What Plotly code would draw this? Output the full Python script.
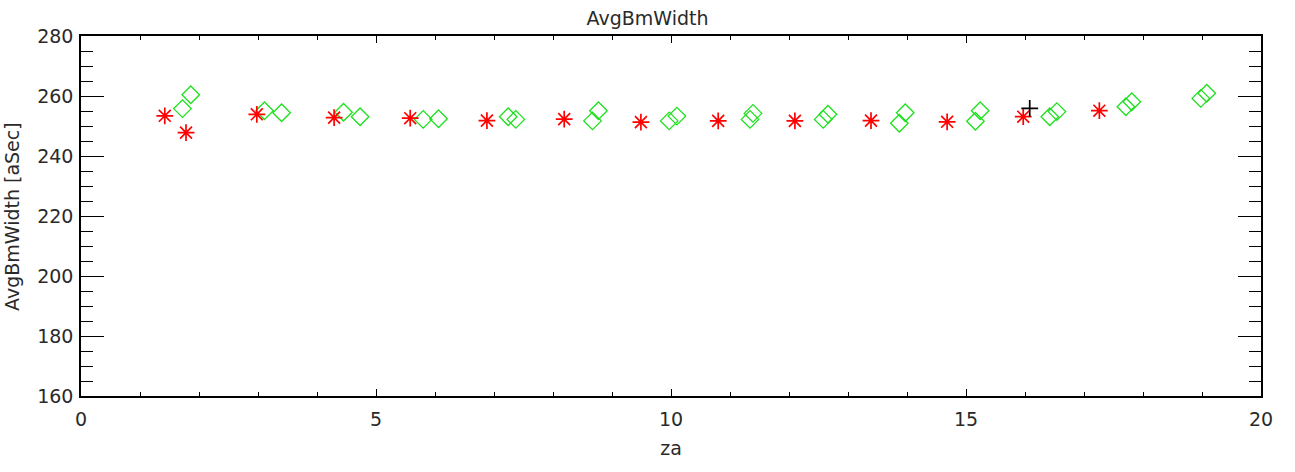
import plotly.graph_objects as go

# Red asterisks
red_za = [1.42, 1.78, 2.98, 4.29, 5.58, 6.88, 8.19, 9.49, 10.80, 12.10, 13.39, 14.68, 15.97, 17.26]
red_bw = [253.4, 247.8, 253.9, 252.8, 252.6, 251.8, 252.3, 251.3, 251.7, 251.7, 251.8, 251.4, 253.1, 255.1]

# Green diamonds
green_za = [1.72, 1.86, 3.11, 3.40, 4.45, 4.73, 5.80, 6.06, 7.24, 7.37, 8.67, 8.77,
            9.97, 10.10, 11.34, 11.39, 12.58, 12.66, 13.87, 13.97, 15.16, 15.24,
            16.42, 16.54, 17.71, 17.81, 18.98, 19.08]
green_bw = [255.8, 260.4, 255.1, 254.4, 254.6, 253.1, 252.2, 252.4, 253.1, 252.2, 251.7, 255.1,
            251.7, 253.3, 252.2, 254.2, 252.2, 253.9, 250.9, 254.4, 251.6, 255.1,
            253.1, 254.8, 256.4, 258.1, 259.2, 260.9]

# Black plus
black_za = [16.08]
black_bw = [255.9]

x_range = [0, 20]
y_range = [160, 280]
x_ticks = [0, 5, 10, 15, 20]
y_ticks = [160, 180, 200, 220, 240, 260, 280]
y_title = "AvgBmWidth [aSec]"

FONT = "DejaVu Sans"
TXT = "#2a2a2a"

fig = go.Figure()
fig.add_trace(go.Scatter(x=green_za, y=green_bw, mode="markers",
                         marker=dict(symbol="diamond-open", size=13.5, color="#1ee01e",
                                     line=dict(width=1.3, color="#1ee01e")),
                         showlegend=False))
fig.add_trace(go.Scatter(x=red_za, y=red_bw, mode="markers",
                         marker=dict(symbol="asterisk-open", size=14, color="#ff0000",
                                     line=dict(width=1.7, color="#ff0000")),
                         showlegend=False))
fig.add_trace(go.Scatter(x=black_za, y=black_bw, mode="markers",
                         marker=dict(symbol="cross-thin-open", size=12, color="#000000",
                                     line=dict(width=1.7, color="#000000")),
                         showlegend=False))

axis_common = dict(showgrid=False, zeroline=False, showline=True, linecolor="#000000",
                   linewidth=1.5, mirror="ticks", ticks="inside", tickcolor="#000000",
                   tickwidth=1.2, tickfont=dict(family=FONT, size=19, color=TXT))

fig.update_layout(
    width=1295, height=472,
    margin=dict(l=81, r=34, t=36, b=76, autoexpand=False),
    paper_bgcolor="white", plot_bgcolor="white",
    title=dict(text="AvgBmWidth", x=0.5, xanchor="center", y=0.962, yanchor="middle",
               font=dict(family=FONT, size=19, color=TXT)),
    xaxis=dict(range=x_range, tickvals=x_ticks, ticklen=7,
               minor=dict(dtick=1, ticklen=4, ticks="inside", tickcolor="#000000", tickwidth=1),
               title=dict(text="za", standoff=13, font=dict(family=FONT, size=19, color=TXT)),
               ticklabelstandoff=5,
               automargin=False,
               **axis_common),
    yaxis=dict(range=y_range, tickvals=y_ticks, ticklen=23,
               minor=dict(dtick=5, ticklen=12, ticks="inside", tickcolor="#000000", tickwidth=1),
               ticklabelstandoff=2,
               automargin=False,
               **axis_common),
    annotations=[dict(text=y_title, xref="paper", yref="paper", x=-0.0585, y=0.5,
                      xanchor="center", yanchor="middle", textangle=-90, showarrow=False,
                      font=dict(family=FONT, size=19, color=TXT))],
)

fig.write_html("out.html", config={"displayModeBar": False},
               post_script="document.body.style.margin='0';")
